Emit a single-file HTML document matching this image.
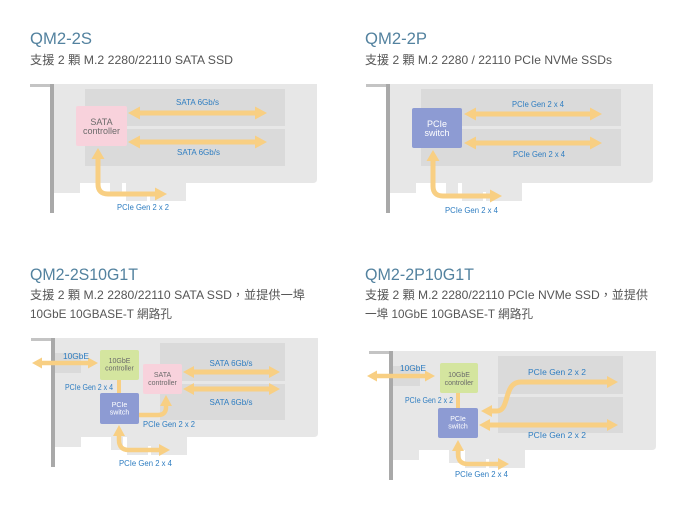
<!DOCTYPE html>
<html>
<head>
<meta charset="utf-8">
<style>
html,body{margin:0;padding:0;background:#fff;}
body{width:694px;height:511px;overflow:hidden;}
svg{display:block;}
.t{font-family:"Liberation Sans","Noto Sans CJK TC",sans-serif;}
.title{font-size:16.5px;fill:#53829f;}
.sub{font-size:12px;fill:#555;}
.lbl{font-size:8px;fill:#2e7dc1;}
.box{font-size:9px;fill:#6a6a6a;}
.boxw{font-size:9px;fill:#fff;}
.sm{font-size:7px;}
.ar{fill:#f8cf83;}
.sh{fill:none;stroke:#f8cf83;stroke-width:5;}
.sh4{fill:none;stroke:#f8cf83;stroke-width:4.5;}
</style>
</head>
<body>
<svg width="694" height="511" viewBox="0 0 694 511" xmlns="http://www.w3.org/2000/svg">
<defs>
  <g id="card">
    <rect x="30" y="84" width="24" height="3" fill="#c4c4c4"/>
    <rect x="50" y="84" width="4" height="129" fill="#a9a9a9"/>
    <path d="M54,84 H317 V179 Q317,183 313,183 H54 Z" fill="#e7e7e7"/>
    <rect x="54" y="183" width="26" height="10" fill="#e7e7e7"/>
    <rect x="110" y="183" width="12" height="13" fill="#e7e7e7"/>
    <rect x="126" y="183" width="60" height="18" fill="#e7e7e7"/>
    <rect x="147" y="192" width="3" height="9" fill="#fff"/>
  </g>
</defs>

<!-- Titles -->
<text class="t title" x="30" y="44" textLength="62" lengthAdjust="spacingAndGlyphs">QM2-2S</text>
<text class="t sub" x="30" y="64" textLength="203" lengthAdjust="spacingAndGlyphs">支援 2 顆 M.2 2280/22110 SATA SSD</text>
<text class="t title" x="365" y="44" textLength="62" lengthAdjust="spacingAndGlyphs">QM2-2P</text>
<text class="t sub" x="365" y="64" textLength="247" lengthAdjust="spacingAndGlyphs">支援 2 顆 M.2 2280 / 22110 PCIe NVMe SSDs</text>
<text class="t title" x="30" y="280" textLength="108" lengthAdjust="spacingAndGlyphs">QM2-2S10G1T</text>
<text class="t sub" x="30" y="299" textLength="275" lengthAdjust="spacingAndGlyphs">支援 2 顆 M.2 2280/22110 SATA SSD，並提供一埠</text>
<text class="t sub" x="30" y="318" textLength="142" lengthAdjust="spacingAndGlyphs">10GbE 10GBASE-T 網路孔</text>
<text class="t title" x="365" y="280" textLength="109" lengthAdjust="spacingAndGlyphs">QM2-2P10G1T</text>
<text class="t sub" x="365" y="299" textLength="283" lengthAdjust="spacingAndGlyphs">支援 2 顆 M.2 2280/22110 PCIe NVMe SSD，並提供</text>
<text class="t sub" x="365" y="318" textLength="168" lengthAdjust="spacingAndGlyphs">一埠 10GbE 10GBASE-T 網路孔</text>

<!-- ===== Card 1: QM2-2S ===== -->
<use href="#card"/>
<rect x="85" y="89" width="200" height="37" fill="#dadada"/>
<rect x="85" y="129" width="200" height="37" fill="#dadada"/>
<rect x="76" y="106" width="51" height="40" rx="2" fill="#f8d2dc"/>
<text class="t box" x="101.5" y="125" text-anchor="middle">SATA</text>
<text class="t box" x="101.5" y="134" text-anchor="middle">controller</text>
<polygon class="ar" points="128,113 140,106.5 140,110.5 255,110.5 255,106.5 267,113 255,119.5 255,115.5 140,115.5 140,119.5"/>
<polygon class="ar" points="128,142 140,135.5 140,139.5 255,139.5 255,135.5 267,142 255,148.5 255,144.5 140,144.5 140,148.5"/>
<text class="t lbl" x="197.5" y="105" text-anchor="middle" textLength="43" lengthAdjust="spacingAndGlyphs">SATA 6Gb/s</text>
<text class="t lbl" x="198.5" y="155" text-anchor="middle" textLength="43" lengthAdjust="spacingAndGlyphs">SATA 6Gb/s</text>
<path class="sh" d="M98,156 V184 Q98,194 108,194 H156"/>
<polygon class="ar" points="98,148 91.5,159 104.5,159"/>
<polygon class="ar" points="167,194 155,187.5 155,200.5"/>
<text class="t lbl" x="117" y="210" textLength="52" lengthAdjust="spacingAndGlyphs">PCIe Gen 2 x 2</text>

<!-- ===== Card 2: QM2-2P ===== -->
<use href="#card" transform="translate(336,0)"/>
<rect x="421" y="89" width="200" height="37" fill="#dadada"/>
<rect x="421" y="129" width="200" height="37" fill="#dadada"/>
<rect x="412" y="108" width="50" height="40" rx="2" fill="#8d9bd3"/>
<text class="t boxw" x="437" y="127" text-anchor="middle">PCIe</text>
<text class="t boxw" x="437" y="136" text-anchor="middle">switch</text>
<polygon class="ar" points="464,114 476,107.5 476,111.5 590,111.5 590,107.5 602,114 590,120.5 590,116.5 476,116.5 476,120.5"/>
<polygon class="ar" points="464,143 476,136.5 476,140.5 590,140.5 590,136.5 602,143 590,149.5 590,145.5 476,145.5 476,149.5"/>
<text class="t lbl" x="538" y="107" text-anchor="middle" textLength="52" lengthAdjust="spacingAndGlyphs">PCIe Gen 2 x 4</text>
<text class="t lbl" x="539" y="157" text-anchor="middle" textLength="52" lengthAdjust="spacingAndGlyphs">PCIe Gen 2 x 4</text>
<path class="sh" d="M433,158 V186 Q433,196 443,196 H491"/>
<polygon class="ar" points="433,150 426.5,161 439.5,161"/>
<polygon class="ar" points="502,196 490,189.5 490,202.5"/>
<text class="t lbl" x="445" y="213" textLength="53" lengthAdjust="spacingAndGlyphs">PCIe Gen 2 x 4</text>

<!-- ===== Card 3: QM2-2S10G1T ===== -->
<use href="#card" transform="translate(1,254)"/>
<rect x="160" y="343" width="125" height="38" fill="#dadada"/>
<rect x="160" y="384" width="125" height="36" fill="#dadada"/>
<rect x="55" y="353" width="26" height="20" fill="#dadada"/>
<rect x="117" y="380" width="4" height="13" fill="#f8cf83"/>
<rect x="100" y="350" width="39" height="30" rx="2" fill="#d4e59f"/>
<text class="t box sm" x="119.5" y="363" text-anchor="middle">10GbE</text>
<text class="t box sm" x="119.5" y="370.5" text-anchor="middle">controller</text>
<rect x="143" y="364" width="39" height="30" rx="2" fill="#f8d2dc"/>
<text class="t box sm" x="162.5" y="377" text-anchor="middle">SATA</text>
<text class="t box sm" x="162.5" y="385" text-anchor="middle">controller</text>
<rect x="100" y="393" width="39" height="31" rx="2" fill="#8d9bd3"/>
<text class="t boxw sm" x="119.5" y="407" text-anchor="middle">PCIe</text>
<text class="t boxw sm" x="119.5" y="414.5" text-anchor="middle">switch</text>
<polygon class="ar" points="32,363 42,357.5 42,360.75 88,360.75 88,357.5 98,363 88,368.5 88,365.25 42,365.25 42,368.5"/>
<text class="t lbl" x="63" y="359" textLength="26" lengthAdjust="spacingAndGlyphs">10GbE</text>
<text class="t lbl" x="65" y="390" textLength="48" lengthAdjust="spacingAndGlyphs">PCIe Gen 2 x 4</text>
<polygon class="ar" points="183,372 194,366 194,369.5 269,369.5 269,366 280,372 269,378 269,374.5 194,374.5 194,378"/>
<polygon class="ar" points="183,389 194,383 194,386.5 269,386.5 269,383 280,389 269,395 269,391.5 194,391.5 194,395"/>
<text class="t lbl" x="231" y="366" text-anchor="middle" textLength="43" lengthAdjust="spacingAndGlyphs">SATA 6Gb/s</text>
<text class="t lbl" x="231" y="405" text-anchor="middle" textLength="43" lengthAdjust="spacingAndGlyphs">SATA 6Gb/s</text>
<path class="sh4" d="M139,415 H158 Q166,415 166,407 V404"/>
<polygon class="ar" points="166,395 160,406 172,406"/>
<text class="t lbl" x="143" y="427" textLength="52" lengthAdjust="spacingAndGlyphs">PCIe Gen 2 x 2</text>
<path class="sh4" d="M119,434 V440 Q119,450 129,450 H160"/>
<polygon class="ar" points="119,425 113,436 125,436"/>
<polygon class="ar" points="170,450 159,444 159,456"/>
<text class="t lbl" x="119" y="466" textLength="53" lengthAdjust="spacingAndGlyphs">PCIe Gen 2 x 4</text>

<!-- ===== Card 4: QM2-2P10G1T ===== -->
<use href="#card" transform="translate(339,267)"/>
<rect x="498" y="356" width="125" height="38" fill="#dadada"/>
<rect x="498" y="397" width="125" height="36" fill="#dadada"/>
<rect x="393" y="366" width="27" height="20" fill="#dadada"/>
<rect x="456" y="393" width="4" height="15" fill="#f8cf83"/>
<rect x="440" y="363" width="38" height="30" rx="2" fill="#d4e59f"/>
<text class="t box sm" x="459" y="377" text-anchor="middle">10GbE</text>
<text class="t box sm" x="459" y="385" text-anchor="middle">controller</text>
<rect x="438" y="408" width="40" height="30" rx="2" fill="#8d9bd3"/>
<text class="t boxw sm" x="458" y="421" text-anchor="middle">PCIe</text>
<text class="t boxw sm" x="458" y="428.5" text-anchor="middle">switch</text>
<polygon class="ar" points="367,376 377,370.5 377,373.75 425,373.75 425,370.5 435,376 425,381.5 425,378.25 377,378.25 377,381.5"/>
<text class="t lbl" x="400" y="371" textLength="26" lengthAdjust="spacingAndGlyphs">10GbE</text>
<text class="t lbl" x="405" y="403" textLength="48" lengthAdjust="spacingAndGlyphs">PCIe Gen 2 x 2</text>
<path class="sh" d="M491,411 H497 C510,411 503,382 521,382 H607"/>
<polygon class="ar" points="481,411 492,405 492,417"/>
<polygon class="ar" points="618,382 607,376 607,388"/>
<text class="t lbl" x="528" y="375" textLength="58" lengthAdjust="spacingAndGlyphs">PCIe Gen 2 x 2</text>
<polygon class="ar" points="479,425 490,419 490,422.5 607,422.5 607,419 618,425 607,431 607,427.5 490,427.5 490,431"/>
<text class="t lbl" x="528" y="438" textLength="58" lengthAdjust="spacingAndGlyphs">PCIe Gen 2 x 2</text>
<path class="sh4" d="M458,450 V454 Q458,464 468,464 H499"/>
<polygon class="ar" points="458,440 452,451 464,451"/>
<polygon class="ar" points="509,464 498,458 498,470"/>
<text class="t lbl" x="455" y="477" textLength="53" lengthAdjust="spacingAndGlyphs">PCIe Gen 2 x 4</text>
</svg>
</body>
</html>
